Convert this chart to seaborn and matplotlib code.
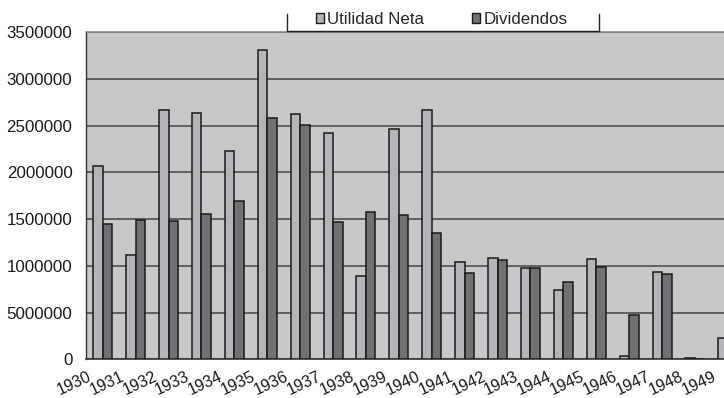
import numpy as np
import pandas as pd
import matplotlib
matplotlib.use("Agg")
import matplotlib.pyplot as plt
from matplotlib.patches import Rectangle
from matplotlib.lines import Line2D
import seaborn as sns

# Utilidad neta y dividendos por año
anios = [str(a) for a in range(1930, 1950)]
utilidad_neta = [2070000, 1110000, 2670000, 2630000, 2230000, 3310000, 2620000,
                 2420000, 890000, 2460000, 2670000, 1040000, 1080000, 980000,
                 740000, 1070000, 35000, 930000, 15000, 225000]
dividendos = [1450000, 1490000, 1480000, 1550000, 1690000, 2580000, 2510000,
              1470000, 1570000, 1540000, 1350000, 920000, 1060000, 980000,
              830000, 990000, 470000, 910000, 0, np.nan]
series = ["Utilidad Neta", "Dividendos"]
y_ticks = [0, 500000, 1000000, 1500000, 2000000, 2500000, 3000000, 3500000]
y_labels = ["0", "5000000", "1000000", "1500000", "2000000", "2500000",
            "3000000", "3500000"]

df = pd.DataFrame({
    "anio": anios * 2,
    "valor": utilidad_neta + dividendos,
    "serie": [series[0]] * len(anios) + [series[1]] * len(anios),
})

colores = ["#b4b5b8", "#717174"]
fondo = "#c7c8ca"

sns.set_theme(style="white")
plt.rcParams["font.family"] = ["Liberation Sans", "DejaVu Sans"]

fig = plt.figure(figsize=(7.24, 3.98), dpi=100)
ax = fig.add_axes([86.3 / 724, 1 - 359.3 / 398, 1 - 86.3 / 724, (359.3 - 32) / 398])
ax.set_facecolor(fondo)

sns.barplot(data=df, x="anio", y="valor", hue="serie", order=anios,
            hue_order=series, palette=colores, width=0.58,
            edgecolor="#1a1a1a", linewidth=1.1, saturation=1, ax=ax,
            legend=False, zorder=3)

ax.set_ylim(0, 3500000)
ax.set_xlim(-0.5, (724 - 86.3) / 32.9 - 0.5)
ax.set_yticks(y_ticks)
ax.set_yticklabels(y_labels, fontsize=12.2, color="#1a1a1a")
ax.yaxis.grid(True, which="major", color="#454545", linewidth=1.1, zorder=1)
ax.xaxis.grid(False)
ax.set_axisbelow(True)
ax.set_xlabel("")
ax.set_ylabel("")

# Marcas en los límites de cada año; etiquetas inclinadas junto a cada marca
limites = np.arange(len(anios)) - 0.5
ax.set_xticks(limites, labels=[""] * len(anios))
ax.set_xticks(limites + 0.12, labels=anios, minor=True)
for lab in ax.get_xticklabels(minor=True):
    lab.set_rotation(25)
    lab.set_ha("right")
    lab.set_va("center")
    lab.set_rotation_mode("anchor")
    lab.set_fontsize(11.6)
    lab.set_color("#1a1a1a")

ax.tick_params(axis="x", which="major", direction="out", length=5, width=1,
               color="#333333")
ax.tick_params(axis="x", which="minor", length=0, pad=12)
ax.tick_params(axis="y", direction="out", length=3, width=1, color="#333333", pad=7)

ax.spines["right"].set_visible(False)
ax.spines["top"].set_color("#8a8a8a")
ax.spines["top"].set_linewidth(1.2)
ax.spines["left"].set_color("#333333")
ax.spines["bottom"].set_color("#333333")
ax.spines["left"].set_linewidth(1.0)
ax.spines["bottom"].set_linewidth(1.2)

# Leyenda en la parte superior
manejadores = [Rectangle((0, 0), 1, 1, facecolor=c, edgecolor="#1a1a1a", linewidth=1)
               for c in colores]
fig.legend(manejadores, series, ncol=2, frameon=False, loc="center left",
           bbox_to_anchor=(315.5 / 724, 1 - 19.5 / 398), borderaxespad=0,
           borderpad=0, fontsize=12.2, handlelength=0.5, handleheight=0.5,
           handletextpad=0.2, columnspacing=2.8)

# Recuadro de la leyenda
for xs, ys in [([287 / 724, 287 / 724], [1 - 31 / 398, 1 - 14 / 398]),
               ([599 / 724, 599 / 724], [1 - 31 / 398, 1 - 14 / 398]),
               ([287 / 724, 599 / 724], [1 - 31 / 398, 1 - 31 / 398])]:
    fig.add_artist(Line2D(xs, ys, color="#222222", linewidth=1.0))

fig.savefig("out.png", dpi=100, facecolor="white")
